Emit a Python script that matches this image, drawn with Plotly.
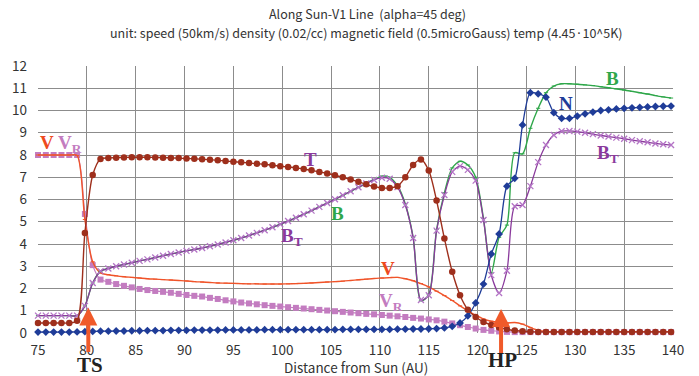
import plotly.graph_objects as go

# Sampling positions along the line of sight (AU)
distance = [75.0, 75.8, 76.6, 77.4, 78.2, 79.0, 79.8, 80.6, 81.4, 82.2,
            83.0, 83.8, 84.6, 85.4, 86.2, 87.0, 87.8, 88.6, 89.4, 90.2,
            91.0, 91.8, 92.6, 93.4, 94.2, 95.0, 95.8, 96.6, 97.4, 98.2,
            99.0, 99.8, 100.6, 101.4, 102.2, 103.0, 103.8, 104.6, 105.4, 106.2,
            107.0, 107.8, 108.6, 109.4, 110.2, 111.0, 111.8, 112.6, 113.4, 114.2,
            115.0, 115.8, 116.6, 117.4, 118.2, 119.0, 119.8, 120.6, 121.4, 122.2,
            123.0, 123.8, 124.6, 125.4, 126.2, 127.0, 127.8, 128.6, 129.4, 130.2,
            131.0, 131.8, 132.6, 133.4, 134.2, 135.0, 135.8, 136.6, 137.4, 138.2,
            139.0, 139.8]

# Temperature (units of 4.45e5 K)
temp = [0.45, 0.45, 0.45, 0.45, 0.45, 0.55, 4.5, 7.1, 7.82, 7.87,
        7.88, 7.89, 7.9, 7.9, 7.9, 7.89, 7.88, 7.87, 7.86, 7.84,
        7.83, 7.81, 7.79, 7.76, 7.73, 7.7, 7.67, 7.64, 7.61, 7.58,
        7.54, 7.5, 7.46, 7.42, 7.37, 7.31, 7.24, 7.17, 7.09, 7.0,
        6.9, 6.8, 6.68, 6.58, 6.52, 6.52, 6.6, 7.0, 7.55, 7.8,
        7.3, 5.95, 4.25, 2.75, 1.7, 1.05, 0.72, 0.5, 0.36, 0.25,
        0.17, 0.11, 0.08, 0.06, 0.05, 0.05, 0.05, 0.05, 0.05, 0.05,
        0.05, 0.05, 0.05, 0.05, 0.05, 0.05, 0.05, 0.05, 0.05, 0.05,
        0.05, 0.05]

# Density (units of 0.02/cc)
density = [0.04, 0.04, 0.04, 0.04, 0.04, 0.05, 0.06, 0.07, 0.08, 0.08,
           0.09, 0.09, 0.1, 0.1, 0.11, 0.11, 0.11, 0.12, 0.12, 0.12,
           0.13, 0.13, 0.13, 0.13, 0.14, 0.14, 0.14, 0.14, 0.14, 0.15,
           0.15, 0.15, 0.15, 0.15, 0.15, 0.15, 0.15, 0.15, 0.15, 0.16,
           0.16, 0.16, 0.16, 0.16, 0.16, 0.16, 0.17, 0.17, 0.18, 0.18,
           0.19, 0.2, 0.23, 0.3, 0.45, 0.77, 1.35, 2.2, 3.55, 4.45,
           6.6, 6.95, 9.35, 10.8, 10.75, 10.6, 9.9, 9.65, 9.65, 9.75,
           9.85, 9.93, 10.0, 10.03, 10.07, 10.1, 10.12, 10.14, 10.16, 10.18,
           10.19, 10.2]

# Magnetic field magnitude (units of 0.5 microGauss)
b_total = [0.78, 0.78, 0.78, 0.78, 0.78, 0.78, 1.22, 2.25, 2.78, 2.9,
           3.0, 3.08, 3.16, 3.24, 3.31, 3.39, 3.47, 3.55, 3.62, 3.69,
           3.75, 3.82, 3.9, 3.98, 4.07, 4.17, 4.27, 4.38, 4.5, 4.62,
           4.75, 4.89, 5.03, 5.18, 5.34, 5.5, 5.67, 5.84, 6.01, 6.19,
           6.37, 6.55, 6.73, 6.9, 7.05, 7.0, 6.62, 5.8, 4.3, 1.45,
           1.72, 4.65, 6.3, 7.42, 7.72, 7.55, 7.0, 5.15, 2.7, 4.3,
           4.85, 8.1, 8.05, 9.2, 10.1, 10.8, 11.1, 11.2, 11.2, 11.18,
           11.15, 11.12, 11.07, 11.02, 10.97, 10.92, 10.86, 10.8, 10.74, 10.67,
           10.61, 10.56]

# Transverse magnetic field (units of 0.5 microGauss)
b_trans = [0.78, 0.78, 0.78, 0.78, 0.78, 0.78, 1.22, 2.25, 2.78, 2.9,
           3.0, 3.08, 3.16, 3.24, 3.31, 3.39, 3.47, 3.55, 3.62, 3.69,
           3.75, 3.82, 3.9, 3.98, 4.07, 4.17, 4.27, 4.38, 4.5, 4.62,
           4.75, 4.89, 5.03, 5.18, 5.34, 5.5, 5.67, 5.84, 6.01, 6.19,
           6.37, 6.55, 6.72, 6.88, 6.98, 6.93, 6.56, 5.75, 4.27, 1.48,
           1.7, 4.6, 6.2, 7.24, 7.5, 7.33, 6.85, 5.08, 2.6, 1.8,
           2.8, 5.7, 5.75, 6.6, 7.68, 8.45, 8.9, 9.07, 9.08, 9.05,
           9.0, 8.94, 8.88, 8.83, 8.78, 8.73, 8.67, 8.62, 8.57, 8.52,
           8.48, 8.45]

# Flow speed (units of 50 km/s)
speed = [8.0, 8.0, 8.0, 8.0, 8.0, 7.98, 5.1, 3.2, 2.7, 2.62,
         2.57, 2.53, 2.5, 2.47, 2.44, 2.42, 2.4, 2.38, 2.36, 2.34,
         2.31, 2.29, 2.27, 2.25, 2.24, 2.23, 2.22, 2.21, 2.21, 2.2,
         2.2, 2.2, 2.21, 2.22, 2.23, 2.25, 2.27, 2.29, 2.31, 2.33,
         2.36, 2.39, 2.42, 2.45, 2.47, 2.49, 2.5, 2.44, 2.35, 2.22,
         2.07, 1.88, 1.68, 1.46, 1.22, 1.0, 0.8, 0.63, 0.53, 0.48,
         0.45, 0.47, 0.4, 0.25, 0.12, 0.07, 0.06, 0.06, 0.06, 0.06,
         0.06, 0.06, 0.06, 0.06, 0.06, 0.06, 0.06, 0.06, 0.06, 0.06,
         0.06, 0.06]

# Radial flow speed (units of 50 km/s)
speed_r = [8.0, 8.0, 8.0, 8.0, 8.0, 8.0, 5.35, 3.05, 2.4, 2.3,
           2.2, 2.12, 2.05, 1.98, 1.93, 1.89, 1.85, 1.81, 1.76, 1.71,
           1.67, 1.64, 1.58, 1.53, 1.47, 1.42, 1.37, 1.33, 1.29, 1.25,
           1.22, 1.19, 1.16, 1.13, 1.1, 1.07, 1.04, 1.01, 0.98, 0.95,
           0.92, 0.89, 0.86, 0.84, 0.81, 0.78, 0.75, 0.72, 0.68, 0.65,
           0.61, 0.57, 0.51, 0.43, 0.35, 0.27, 0.2, 0.14, 0.1, 0.07,
           0.05, 0.04, 0.04, 0.04, 0.04, 0.04, 0.04, 0.04, 0.04, 0.04,
           0.04, 0.04, 0.04, 0.04, 0.04, 0.04, 0.04, 0.04, 0.04, 0.04,
           0.04, 0.04]

x_ticks = [75, 80, 85, 90, 95, 100, 105, 110, 115, 120, 125, 130, 135, 140]
y_ticks = list(range(0, 13))

C_T = "#9E2F1C"
C_N = "#1F3C98"
C_B = "#2FA74A"
C_BT = "#8A3A9C"
C_BT_MK = "#B474C6"
C_V = "#F0542A"
C_VR = "#C37CC0"
C_VLAB = "#EE4A1E"

fig = go.Figure()


def add_series(y, color, width, symbol, size, mcolor=None, mline=0):
    fig.add_trace(go.Scatter(
        x=distance, y=y, mode="lines+markers",
        line=dict(color=color, width=width, shape="spline", smoothing=0.8),
        marker=dict(symbol=symbol, size=size, color=mcolor or color,
                    line=dict(width=mline, color=mcolor or color)),
        cliponaxis=False, showlegend=False, hoverinfo="skip"))


add_series(speed_r, C_VR, 1.2, "square", 6)
add_series(speed, C_V, 1.4, "line-ew", 3, mline=1)
add_series(b_total, C_B, 1.4, "line-ew", 3, mline=1)
add_series(b_trans, C_BT, 1.3, "x-thin", 6, mcolor=C_BT_MK, mline=1.3)
add_series(density, C_N, 1.3, "diamond", 6)
add_series(temp, C_T, 1.4, "circle", 6.5)

serif = "Liberation Serif, Times New Roman, serif"
labels = [
    ("V", 75.95, 8.55, C_VLAB),
    ("V<sub>R</sub>", 78.3, 8.5, C_VR),
    ("T", 102.9, 7.82, C_BT),
    ("B", 105.7, 5.38, C_B),
    ("B<sub>T</sub>", 101.0, 4.3, C_BT),
    ("V", 110.8, 2.91, C_VLAB),
    ("V<sub>R</sub>", 111.1, 1.38, C_VR),
    ("N", 129.0, 10.32, C_N),
    ("B", 133.8, 11.45, C_B),
    ("B<sub>T</sub>", 133.3, 8.05, C_BT),
]
for txt, lx, ly, col in labels:
    fig.add_annotation(x=lx, y=ly, xref="x", yref="y", text=f"<b>{txt}</b>",
                       showarrow=False, font=dict(family=serif, size=19, color=col))

# Shock markers: termination shock and heliopause
for head_x, head_y in [(80.15, 1.15), (122.4, 1.08)]:
    fig.add_annotation(x=head_x, y=head_y, xref="x", yref="y", text="",
                       showarrow=True, arrowhead=2, arrowsize=0.9, arrowwidth=4,
                       arrowcolor="#F05A2A", ax=0, ay=46)


def paper_text(txt, px, py, font):
    # place text centred on a pixel position relative to the plot frame
    fig.add_annotation(x=(px - 38) / 635, y=(333 - py) / 267, xref="paper", yref="paper",
                       xanchor="center", yanchor="middle", text=txt,
                       showarrow=False, font=font)


shock_font = dict(family=serif, size=21, color="#222222")
paper_text("<b>TS</b>", 90, 365, shock_font)
paper_text("<b>HP</b>", 502, 360, shock_font)

title_font = dict(family="Noto Sans CJK JP, DejaVu Sans, sans-serif", size=12.5, color="#333333")
paper_text("Along Sun-V1 Line  (alpha=45 deg)", 367, 14, title_font)
paper_text("unit: speed (50km/s) density (0.02/cc) magnetic field (0.5microGauss) temp (4.45·10^5K)",
           366, 33, title_font)

axis_font = dict(family="Noto Sans CJK JP, DejaVu Sans, sans-serif", size=13.5, color="#333333")
paper_text("Distance from Sun (AU)", 356, 367, axis_font)

fig.update_xaxes(range=[75, 140], tickvals=x_ticks, ticktext=[str(v) for v in x_ticks],
                 showgrid=True, gridcolor="#8c8c8c", gridwidth=1, zeroline=False,
                 showline=False, ticks="", tickfont=axis_font, ticklabelstandoff=7,
                 automargin=False)
fig.update_yaxes(range=[0, 12], tickvals=y_ticks, ticktext=[str(v) for v in y_ticks],
                 showgrid=True, gridcolor="#8c8c8c", gridwidth=1, zeroline=False,
                 showline=False, ticks="", tickfont=axis_font, ticklabelstandoff=10,
                 automargin=False)

fig.update_layout(width=699, height=376, margin=dict(l=38, r=26, t=66, b=43),
                  plot_bgcolor="white", paper_bgcolor="white")

fig.write_html("out.html")
